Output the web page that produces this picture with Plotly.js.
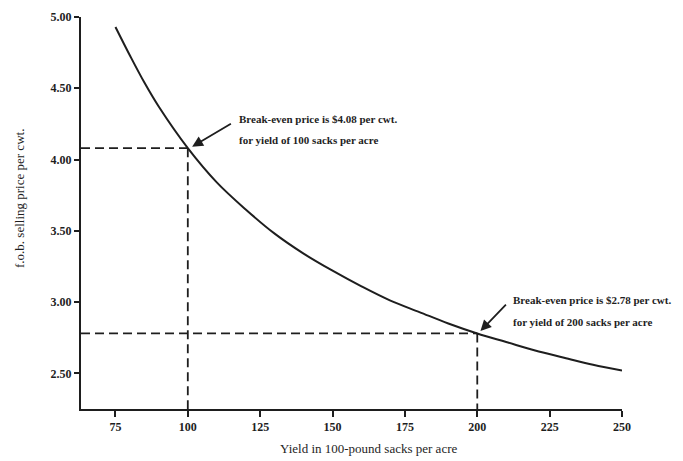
<!DOCTYPE html>
<html>
<head>
<meta charset="utf-8">
<script src="https://cdn.plot.ly/plotly-3.0.1.min.js"></script>
<style>html,body{margin:0;padding:0;background:#fff;}#chart{width:683px;height:461px;}</style>
</head>
<body>
<div id="chart"></div>
<script>
// Break-even curve
var yieldSacks = [75, 80, 85, 90, 100, 110, 120, 130, 140, 150, 160, 170, 180, 190, 200, 210, 220, 230, 240, 250];
var breakEvenCurve = [4.93, 4.73, 4.54, 4.37, 4.08, 3.84, 3.65, 3.48, 3.34, 3.22, 3.11, 3.01, 2.93, 2.85, 2.78, 2.72, 2.66, 2.61, 2.56, 2.52];

// Marked break-even points
var markedYield = [100, 200];
var markedPrice = [4.08, 2.78];
var markedLine1 = ["Break-even price is $4.08 per cwt.", "Break-even price is $2.78 per cwt."];
var markedLine2 = ["for yield of 100 sacks per acre", "for yield of 200 sacks per acre"];

// Axis ticks
var xTicks = [75, 100, 125, 150, 175, 200, 225, 250];
var yTicks = [2.5, 3.0, 3.5, 4.0, 4.5, 5.0];
var yTickLabels = ["2.50", "3.00", "3.50", "4.00", "4.50", "5.00"];

var xTitle = "Yield in 100-pound sacks per acre";
var yTitle = "f.o.b. selling price per cwt.";

var xMin = 63.1, yMin = 2.25;
var ink = "#1e1e1e";
var serif = "Liberation Serif, Times New Roman, serif";

var traces = [{
  x: yieldSacks, y: breakEvenCurve, mode: "lines", type: "scatter",
  line: {color: ink, width: 2, shape: "spline"}, hoverinfo: "skip"
}];
markedYield.forEach(function (xv, i) {
  traces.push({
    x: [xMin, xv], y: [markedPrice[i], markedPrice[i]], mode: "lines", type: "scatter",
    line: {color: ink, width: 1.8, dash: "9px,5px"}, hoverinfo: "skip"
  });
  traces.push({
    x: [xv, xv], y: [markedPrice[i], yMin], mode: "lines", type: "scatter",
    line: {color: ink, width: 1.8, dash: "9px,5px"}, hoverinfo: "skip"
  });
});

var annFont = {family: serif, size: 11, color: ink, weight: "bold"};
var textPos = [
  {x: 116.9, y1: 4.284, y2: 4.137, ax: 115.4, ay: 4.258, hx: 101.5, hy: 4.09},
  {x: 211.7, y1: 3.014, y2: 2.860, ax: 210.4, ay: 2.993, hx: 201.1, hy: 2.797}
];
var annotations = [];
textPos.forEach(function (p, i) {
  annotations.push({xref: "x", yref: "y", x: p.x, y: p.y1, text: markedLine1[i], showarrow: false,
    xanchor: "left", yanchor: "middle", font: annFont});
  annotations.push({xref: "x", yref: "y", x: p.x, y: p.y2, text: markedLine2[i], showarrow: false,
    xanchor: "left", yanchor: "middle", font: annFont});
  annotations.push({xref: "x", yref: "y", x: p.hx, y: p.hy, axref: "x", ayref: "y", ax: p.ax, ay: p.ay,
    text: "", showarrow: true, arrowhead: 2, arrowsize: 1.2, arrowwidth: 1.8, arrowcolor: ink});
});
annotations.push({xref: "paper", yref: "paper", x: 0.5305, y: -0.0995, text: xTitle, showarrow: false,
  xanchor: "center", yanchor: "middle", font: {family: serif, size: 13, color: ink}});
annotations.push({xref: "paper", yref: "paper", x: -0.1128, y: 0.5383, text: yTitle, showarrow: false,
  textangle: -90, xanchor: "center", yanchor: "middle", font: {family: serif, size: 13, color: ink}});

var layout = {
  width: 683, height: 461,
  margin: {l: 81, r: 61, t: 17, b: 52},
  paper_bgcolor: "#fff", plot_bgcolor: "#fff",
  showlegend: false,
  xaxis: {
    range: [xMin, 250], tickvals: xTicks, showgrid: false, zeroline: false,
    showline: true, linecolor: ink, linewidth: 2,
    ticks: "outside", ticklen: 6, tickwidth: 2, tickcolor: ink,
    tickfont: {family: serif, size: 12, color: ink, weight: "bold"}
  },
  yaxis: {
    range: [yMin, 5.0], tickvals: yTicks, ticktext: yTickLabels, showgrid: false, zeroline: false,
    showline: true, linecolor: ink, linewidth: 2,
    ticks: "outside", ticklen: 5, tickwidth: 2, tickcolor: ink,
    tickfont: {family: serif, size: 12, color: ink, weight: "bold"}
  },
  annotations: annotations
};

Plotly.newPlot("chart", traces, layout, {displayModeBar: false, staticPlot: true});
</script>
</body>
</html>
